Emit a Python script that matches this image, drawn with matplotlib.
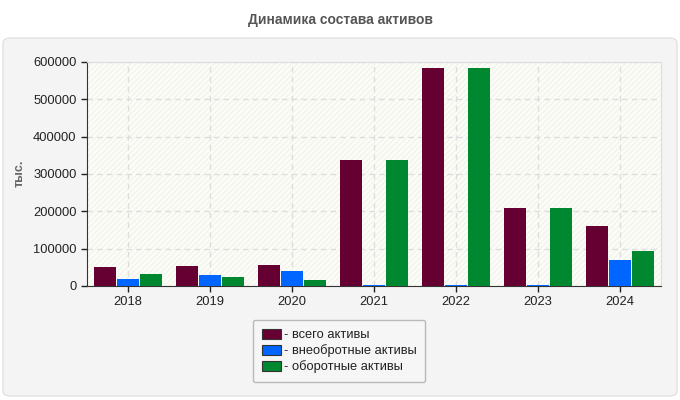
import matplotlib.pyplot as plt
from matplotlib.patches import FancyBboxPatch, Rectangle, Patch
import numpy as np

plt.rcParams['font.family'] = ['Liberation Sans', 'DejaVu Sans']

years = ['2018', '2019', '2020', '2021', '2022', '2023', '2024']
total = [51000, 54000, 57000, 337000, 584000, 209000, 161000]
noncurrent = [19000, 30000, 40000, 3000, 3000, 3000, 69000]
current = [32000, 24000, 17000, 337000, 584000, 209000, 93000]
series_names = ['- всего активы', '- внеобротные активы', '- оборотные активы']
colors = ['#660033', '#0066ff', '#008830']
yticks = [0, 100000, 200000, 300000, 400000, 500000, 600000]

fig = plt.figure(figsize=(6.8, 4), dpi=100)
fig.patch.set_facecolor('white')

# grey panel behind the chart
panel = FancyBboxPatch((3 / 680, 4 / 400), 674 / 680, 358 / 400,
                       boxstyle='round,pad=0,rounding_size=0.012',
                       transform=fig.transFigure, facecolor='#f4f4f4',
                       edgecolor='#e2e2e2', linewidth=1, zorder=-10)
fig.patches.append(panel)

fig.text(0.5, 1 - 20 / 400, 'Динамика состава активов', ha='center', va='center',
         fontsize=10, fontweight='bold', color='#555555')

ax = fig.add_axes([87 / 680, 1 - 286 / 400, 574 / 680, 224 / 400])
ax.set_facecolor('#fdfdf8')
ax.add_patch(Rectangle((0, 0), 1, 1, transform=ax.transAxes, facecolor='none',
                       edgecolor='#f3f3ee', hatch='//////', linewidth=0, zorder=0))

x = np.arange(len(years))
w = 0.27
step = w + 0.013
for i, vals in enumerate([total, noncurrent, current]):
    ax.bar(x + (i - 1) * step, vals, width=w, color=colors[i], zorder=3)

ax.set_xlim(-0.5, len(years) - 0.5)
ax.set_ylim(0, 600000)
ax.set_xticks(x)
ax.set_xticklabels(years)
ax.set_yticks(yticks)
ax.set_yticklabels([str(v) for v in yticks])
ax.tick_params(labelsize=9.3, colors='#222222', length=4, width=1)
ax.grid(True, color='#dddddd', linestyle=(0, (4, 3)), linewidth=1, zorder=1)

for s in ['left', 'bottom']:
    ax.spines[s].set_color('#333333')
for s in ['top', 'right']:
    ax.spines[s].set_color('#dddddd')

fig.text(20 / 680, 1 - 173 / 400, 'тыс.', rotation=90, ha='center', va='center',
         fontsize=9, fontweight='bold', color='#666666')

handles = [Patch(facecolor=c, edgecolor='#333333', linewidth=0.8) for c in colors]
leg = fig.legend(handles, series_names, loc='center', bbox_to_anchor=(339 / 680, 1 - 351 / 400),
                 fontsize=9.3, frameon=True, handlelength=1.5, handleheight=0.8,
                 handletextpad=0.2, labelspacing=0.25, borderpad=0.7, borderaxespad=0,
                 fancybox=True)
leg.get_frame().set_facecolor('#f7f7f7')
leg.get_frame().set_edgecolor('#aaaaaa')
for t in leg.get_texts():
    t.set_color('#222222')

fig.savefig('out.png', dpi=100)
